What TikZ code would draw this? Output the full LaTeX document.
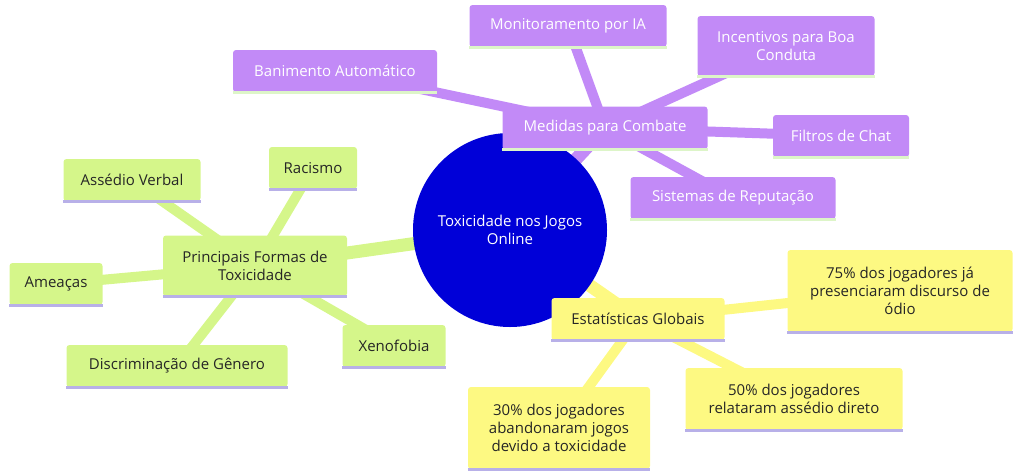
\documentclass[tikz,border=0pt]{standalone}
\usepackage{fontspec}
\setmainfont{Open Sans}
\definecolor{pur}{HTML}{C28AF7}
\definecolor{purl}{HTML}{DDF5C8}
\definecolor{grn}{HTML}{D5F68A}
\definecolor{yel}{HTML}{FDF982}
\definecolor{lav}{HTML}{B8B0E8}
\definecolor{cblue}{HTML}{0000D8}
\begin{document}
\begin{tikzpicture}[x=1pt,y=-1pt,
  box/.style={rounded corners=3pt,inner sep=0pt,align=center,font=\fontsize{15}{18}\selectfont},
  pbox/.style={box,fill=pur,text=white},
  gbox/.style={box,fill=grn,text=black!85},
  ybox/.style={box,fill=yel,text=black!85},
  pe/.style={pur,line width=#1},
  ge/.style={grn,line width=#1},
  ye/.style={yel,line width=#1}]
\useasboundingbox (0,0) rectangle (1024,475);
% coordinates
\coordinate (c) at (510,230);
\coordinate (m) at (605,128);
\coordinate (m1) at (568,26);
\coordinate (m2) at (786,46);
\coordinate (m3) at (335,71);
\coordinate (m4) at (841,136);
\coordinate (m5) at (733,198);
\coordinate (g) at (255,266);
\coordinate (g1) at (132,180);
\coordinate (g2) at (313,168);
\coordinate (g3) at (56,284);
\coordinate (g4) at (177,366);
\coordinate (g5) at (394,346);
\coordinate (y) at (638,319);
\coordinate (y1) at (900,291);
\coordinate (y2) at (794,399);
\coordinate (y3) at (559,428);
% edges
\draw[pe=13] (c) -- (m);
\foreach \t in {m1,m2,m3,m4,m5} \draw[pe=10] (m) -- (\t);
\draw[ge=13] (c) -- (g);
\foreach \t in {g1,g2,g3,g4,g5} \draw[ge=10] (g) -- (\t);
\draw[ye=13] (c) -- (y);
\foreach \t in {y1,y2,y3} \draw[ye=10] (y) -- (\t);
% center
\node[circle,fill=cblue,minimum size=194pt,text=white,align=center,font=\fontsize{15}{18}\selectfont] (ct) at (c) {Toxicidade nos Jogos\\Online};
% nodes
\node[pbox,minimum width=205pt,minimum height=43pt] (nm) at (m) {Medidas para Combate};
\node[pbox,minimum width=197pt,minimum height=42pt] (nm1) at (m1) {Monitoramento por IA};
\node[pbox,minimum width=177pt,minimum height=60pt] (nm2) at (m2) {Incentivos para Boa\\Conduta};
\node[pbox,minimum width=204pt,minimum height=42pt] (nm3) at (m3) {Banimento Automático};
\node[pbox,minimum width=136pt,minimum height=42pt] (nm4) at (m4) {Filtros de Chat};
\node[pbox,minimum width=205pt,minimum height=42pt] (nm5) at (m5) {Sistemas de Reputação};
\node[gbox,minimum width=184pt,minimum height=61pt] (ng) at (g) {Principais Formas de\\Toxicidade};
\node[gbox,minimum width=137pt,minimum height=42pt] (ng1) at (g1) {Assédio Verbal};
\node[gbox,minimum width=88pt,minimum height=42pt] (ng2) at (g2) {Racismo};
\node[gbox,minimum width=93pt,minimum height=42pt] (ng3) at (g3) {Ameaças};
\node[gbox,minimum width=221pt,minimum height=42pt] (ng4) at (g4) {Discriminação de Gênero};
\node[gbox,minimum width=103pt,minimum height=42pt] (ng5) at (g5) {Xenofobia};
\node[ybox,minimum width=173pt,minimum height=42pt] (ny) at (y) {Estatísticas Globais};
\node[ybox,minimum width=225pt,minimum height=82pt] (ny1) at (y1) {75\% dos jogadores já\\presenciaram discurso de\\ódio};
\node[ybox,minimum width=217pt,minimum height=62pt] (ny2) at (y2) {50\% dos jogadores\\relataram assédio direto};
\node[ybox,minimum width=182pt,minimum height=82pt] (ny3) at (y3) {30\% dos jogadores\\abandonaram jogos\\devido a toxicidade};
% bottom lines
\foreach \n in {nm,nm1,nm2,nm3,nm4,nm5} \draw[purl,line width=3pt] (\n.south west) -- (\n.south east);
\foreach \n in {ng,ng1,ng2,ng3,ng4,ng5,ny,ny1,ny2,ny3} \draw[lav,line width=3pt] (\n.south west) -- (\n.south east);
\end{tikzpicture}
\end{document}
